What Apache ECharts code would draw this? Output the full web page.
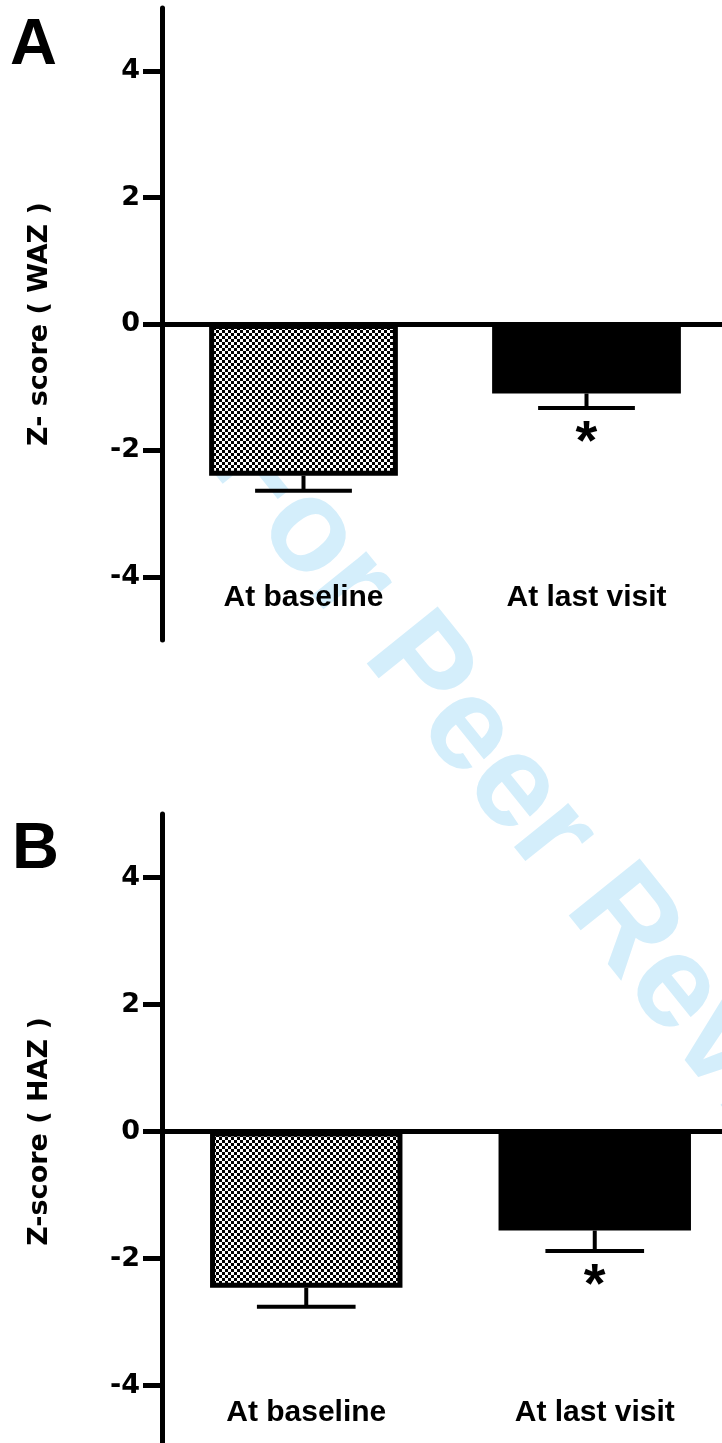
<!DOCTYPE html>
<html>
<head>
<meta charset="utf-8">
<script src="https://cdn.jsdelivr.net/npm/echarts@6/dist/echarts.min.js"></script>
<style>
  html, body { margin: 0; padding: 0; background: #fff; }
  #chart { width: 722px; height: 1443px; }
</style>
</head>
<body>
<div id="chart"></div>
<script>
// ---- data ----
const categories = ['At baseline', 'At last visit'];
const wazMean = [-2.40, -1.10];
const wazSem = [0.24, 0.23];
const hazMean = [-2.46, -1.56];
const hazSem = [0.30, 0.32];
const significance = ['', '*'];
const yTicks = [-4, -2, 0, 2, 4];
const panelLetters = ['A', 'B'];
const yNames = ['Z- score ( WAZ )', 'Z-score ( HAZ )'];
const watermark = 'For Peer Review';

// ---- checker pattern for baseline bar ----
const pc = document.createElement('canvas');
pc.width = 6; pc.height = 6;
const pctx = pc.getContext('2d');
pctx.fillStyle = '#fff'; pctx.fillRect(0, 0, 6, 6);
pctx.fillStyle = '#000'; pctx.fillRect(0, 0, 3, 3); pctx.fillRect(3, 3, 3, 3);
const checker = { image: pc, repeat: 'repeat' };

const chart = echarts.init(document.getElementById('chart'), null, { renderer: 'canvas' });

const grids = [
  { left: 162, top: 8, width: 566, height: 632, containLabel: false, outerBoundsMode: 'none' },
  { left: 162, top: 814, width: 577, height: 635, containLabel: false, outerBoundsMode: 'none' }
];
const labelMargins = [-57, -51];
const nameFont = { fontFamily: 'DejaVu Sans', fontWeight: 'bold', fontSize: 27, color: '#000' };

function xAxisFor(i) {
  return {
    type: 'category', gridIndex: i, data: categories,
    axisLine: { onZero: true, lineStyle: { color: '#000', width: 5 } },
    axisTick: { show: false },
    axisLabel: { margin: labelMargins[i], fontFamily: 'Liberation Sans', fontWeight: 'bold', fontSize: 30, color: '#000' },
    splitLine: { show: false }
  };
}
function yAxisFor(i) {
  return {
    type: 'value', gridIndex: i, min: -5, max: 5,
    axisLine: { show: true, lineStyle: { color: '#000', width: 5 } },
    axisTick: { show: true, length: 19, lineStyle: { color: '#000', width: 5 }, customValues: yTicks },
    axisLabel: { customValues: yTicks, margin: 22, fontFamily: 'DejaVu Sans', fontWeight: 'bold', fontSize: 27, color: '#000' },
    splitLine: { show: false },
    name: yNames[i], nameLocation: 'middle', nameRotate: 90, nameGap: 109,
    nameTextStyle: nameFont
  };
}
function barSeries(i, means) {
  return {
    type: 'bar', xAxisIndex: i, yAxisIndex: i, barWidth: '66.7%',
    data: means.map((v, k) => ({ value: v, itemStyle: { color: k === 0 ? checker : '#000' } })),
    itemStyle: { borderColor: '#000', borderWidth: 5 },
    silent: true, z: 2
  };
}
function errSeries(i, means, sems) {
  return {
    type: 'custom', xAxisIndex: i, yAxisIndex: i, z: 3, silent: true,
    data: means.map((v, k) => [k, v, sems[k]]),
    renderItem: function (params, api) {
      const x = api.value(0), m = api.value(1), s = api.value(2);
      const sig = significance[params.dataIndex];
      const p0 = api.coord([x, m]);
      const p1 = api.coord([x, m - s]);
      const half = api.size([1, 0])[0] * 0.171;
      const children = [
        { type: 'line', shape: { x1: p0[0], y1: p0[1], x2: p1[0], y2: p1[1] }, style: { stroke: '#000', lineWidth: 4 } },
        { type: 'line', shape: { x1: p1[0] - half, y1: p1[1], x2: p1[0] + half, y2: p1[1] }, style: { stroke: '#000', lineWidth: 4 } }
      ];
      if (sig) {
        children.push({ type: 'text', x: p1[0], y: p1[1] + 36,
          style: { text: sig, fill: '#000', font: 'bold 56px "Liberation Sans"', align: 'center', verticalAlign: 'middle' } });
      }
      return { type: 'group', children: children };
    }
  };
}

const option = {
  animation: false,
  backgroundColor: '#fff',
  title: [
    { text: panelLetters[0], left: 10, top: 14, padding: 0, textStyle: { fontFamily: 'Liberation Sans', fontWeight: 'bold', fontSize: 65, color: '#000' } },
    { text: panelLetters[1], left: 12, top: 818, padding: 0, textStyle: { fontFamily: 'Liberation Sans', fontWeight: 'bold', fontSize: 65, color: '#000' } }
  ],
  graphic: [
    { type: 'text', x: 555, y: 840, rotation: -0.895, z: -1, silent: true,
      style: { text: watermark, font: 'bold 132px "Liberation Sans"', fill: 'rgb(212,238,251)', align: 'center', verticalAlign: 'middle' } }
  ],
  grid: grids,
  xAxis: [xAxisFor(0), xAxisFor(1)],
  yAxis: [yAxisFor(0), yAxisFor(1)],
  series: [
    barSeries(0, wazMean), errSeries(0, wazMean, wazSem),
    barSeries(1, hazMean), errSeries(1, hazMean, hazSem)
  ]
};
chart.setOption(option);
</script>
</body>
</html>
